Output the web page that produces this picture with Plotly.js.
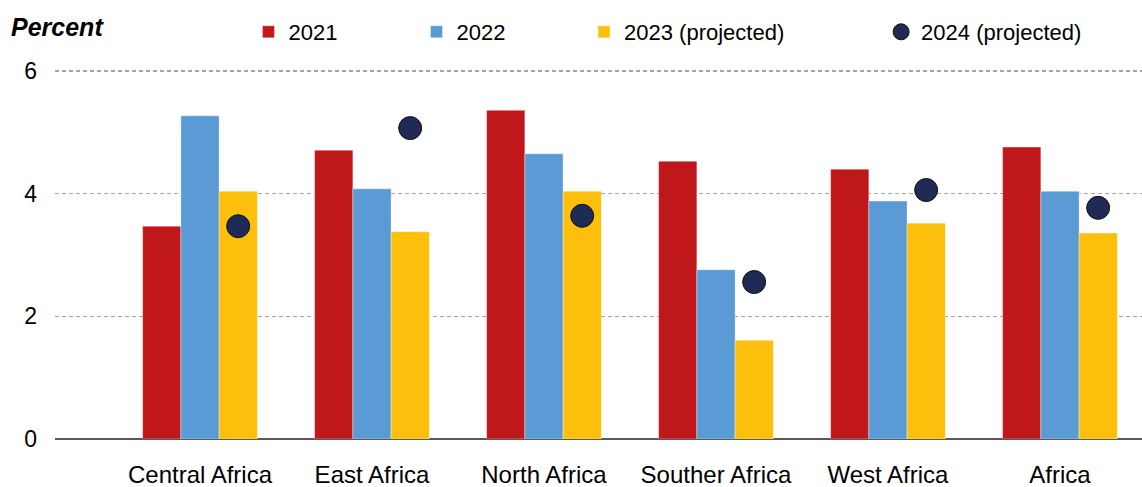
<!DOCTYPE html>
<html>
<head>
<meta charset="utf-8">
<script src="https://cdn.plot.ly/plotly-3.0.1.min.js"></script>
<style>html,body{margin:0;padding:0;background:#fff;}#chart{width:1142px;height:487px;}</style>
</head>
<body>
<div id="chart"></div>
<script>
const categories = ["Central Africa", "East Africa", "North Africa", "Souther Africa", "West Africa", "Africa"];
const values2021 = [3.47, 4.71, 5.36, 4.53, 4.40, 4.76];
const values2022 = [5.27, 4.08, 4.65, 2.76, 3.88, 4.04];
const values2023 = [4.04, 3.38, 4.04, 1.61, 3.52, 3.36];
const values2024 = [3.47, 5.07, 3.64, 2.56, 4.06, 3.77];
const seriesNames = ["2021", "2022", "2023 (projected)", "2024 (projected)"];
const yTicks = [0, 2, 4, 6];

const FONT = "Liberation Sans, Arial, Helvetica, sans-serif";
const xRange = [-0.843, 5.477];
const dotShift = 0.222;

function barTrace(name, y, color, legendId) {
  return {
    type: "bar", name: name, x: categories, y: y,
    marker: {color: color, line: {color: "rgba(255,255,255,0.35)", width: 1}},
    legend: legendId, hoverinfo: "x+y"
  };
}

const data = [
  barTrace(seriesNames[0], values2021, "#C0181A", "legend"),
  barTrace(seriesNames[1], values2022, "#5B9BD5", "legend"),
  barTrace(seriesNames[2], values2023, "#FCC00C", "legend3"),
  {
    type: "scatter", mode: "markers", name: seriesNames[3],
    x: categories, y: values2024, xaxis: "x2", legend: "legend2",
    marker: {color: "#1F2A55", size: 23, line: {color: "#111111", width: 1}}
  }
];

const legendBase = {
  orientation: "h", xanchor: "left", y: 1.097, yanchor: "middle",
  font: {size: 22, family: FONT},
  bgcolor: "rgba(0,0,0,0)", itemclick: false, itemdoubleclick: false
};

const layout = {
  width: 1142, height: 487,
  margin: {l: 55, r: 0, t: 68, b: 48},
  paper_bgcolor: "#ffffff", plot_bgcolor: "#ffffff",
  font: {family: FONT, color: "#000000", size: 22},
  barmode: "group", bargap: 0.333, bargroupgap: 0,
  xaxis: {
    type: "category", range: xRange, showgrid: false, zeroline: false,
    showline: false, ticks: "", tickfont: {size: 24, family: FONT},
    ticklabelstandoff: 19, fixedrange: true
  },
  xaxis2: {
    type: "category", overlaying: "x",
    range: [xRange[0] - dotShift, xRange[1] - dotShift],
    visible: false, fixedrange: true
  },
  yaxis: {
    range: [0, 6.05], tickvals: yTicks, ticktext: yTicks.map(String),
    showgrid: true, gridcolor: "#A6A6A6", griddash: "4px,3px", gridwidth: 1.2,
    zeroline: true, zerolinecolor: "#595959", zerolinewidth: 1.3,
    showline: false, ticks: "", tickfont: {size: 23, family: FONT},
    ticklabelstandoff: 17, fixedrange: true
  },
  showlegend: true,
  legend: Object.assign({}, legendBase, {x: 0.178, entrywidth: 123, entrywidthmode: "pixels"}),
  legend3: Object.assign({}, legendBase, {x: 0.4867}),
  legend2: Object.assign({}, legendBase, {x: 0.76}),
  annotations: [{
    text: "<i>Percent</i>", xref: "paper", yref: "paper",
    x: -46/1087, xanchor: "left", y: (439-27)/371, yanchor: "middle",
    showarrow: false, font: {size: 25, family: FONT, weight: 600}
  }]
};

Plotly.newPlot("chart", data, layout, {displayModeBar: false, staticPlot: true});
</script>
</body>
</html>
